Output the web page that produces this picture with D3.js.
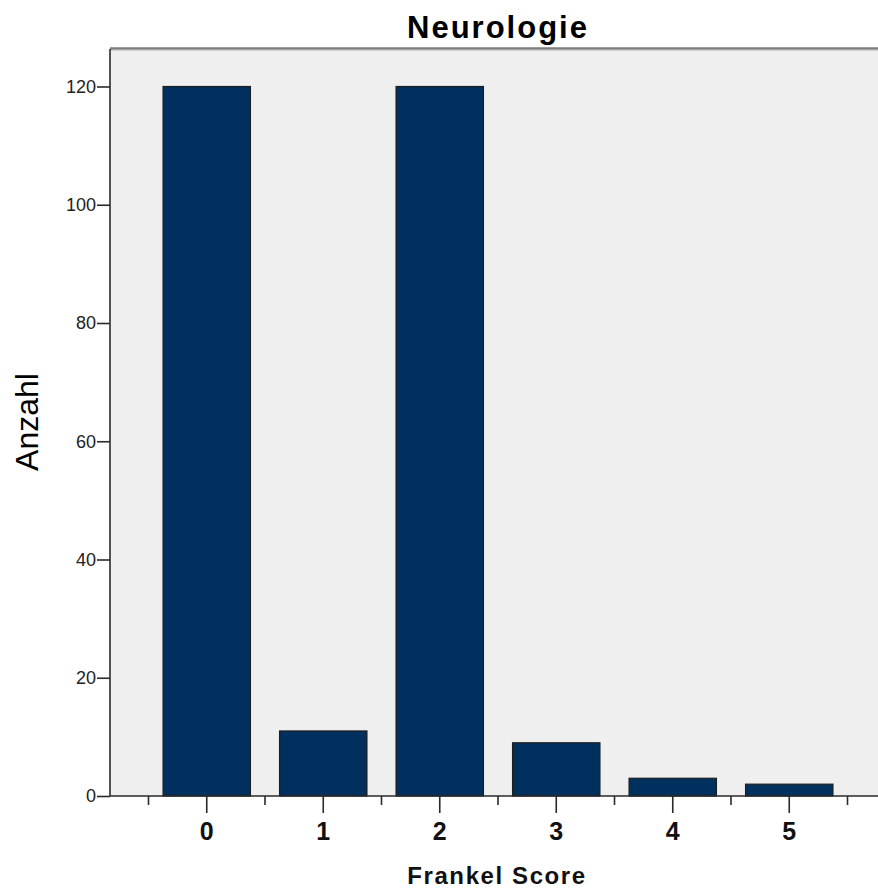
<!DOCTYPE html>
<html>
<head>
<meta charset="utf-8">
<script src="https://cdn.jsdelivr.net/npm/d3@7"></script>
<style>
  html, body { margin: 0; padding: 0; background: #fff; }
  svg { display: block; }
  .ytick text { font-family: "Liberation Sans", Arial, sans-serif; font-size: 18px; fill: #222; }
  .xtick text { font-family: "Liberation Sans", Arial, sans-serif; font-size: 25px; font-weight: bold; fill: #111; }
</style>
</head>
<body>
<svg id="chart" width="878" height="890"></svg>
<script>
// Frankel score categories and patient counts
const categories = ["0", "1", "2", "3", "4", "5"];
const counts = [120, 11, 120, 9, 3, 2];
const yTicks = [0, 20, 40, 60, 80, 100, 120];

const title = "Neurologie";
const xTitle = "Frankel Score";
const yTitle = "Anzahl";

const svg = d3.select("#chart");

const plot = { left: 110, right: 886, top: 49, bottom: 796 };

const x = d3.scaleBand()
  .domain(categories)
  .range([148.5, 847.5])
  .paddingInner(0.25)
  .paddingOuter(0.125);

const y = d3.scaleLinear()
  .domain([0, 120])
  .range([plot.bottom, 86.5]);

// plot background
svg.append("rect")
  .attr("x", plot.left).attr("y", plot.top)
  .attr("width", plot.right - plot.left).attr("height", plot.bottom - plot.top)
  .attr("fill", "#efefef");

// frame top edge
svg.append("line")
  .attr("x1", plot.left).attr("x2", plot.right)
  .attr("y1", plot.top - 0.5).attr("y2", plot.top - 0.5)
  .attr("stroke", "#7c7c7c").attr("stroke-width", 2.5);
svg.append("line")
  .attr("x1", plot.left).attr("x2", plot.right)
  .attr("y1", plot.top + 1.2).attr("y2", plot.top + 1.2)
  .attr("stroke", "#c4c4c4").attr("stroke-width", 1);

// bars
svg.append("g").selectAll("rect")
  .data(categories.map((c, i) => ({ c, v: counts[i] })))
  .join("rect")
  .attr("x", d => x(d.c))
  .attr("y", d => y(d.v))
  .attr("width", x.bandwidth())
  .attr("height", d => y(0) - y(d.v))
  .attr("fill", "#00305e")
  .attr("stroke", "#1e1e1e")
  .attr("stroke-width", 1.2);

// y axis
const yAxis = svg.append("g")
  .attr("class", "ytick")
  .attr("transform", `translate(${plot.left},0)`)
  .call(d3.axisLeft(y).tickValues(yTicks).tickSize(13).tickPadding(1));
yAxis.select(".domain")
  .attr("d", `M0,${plot.top}V${plot.bottom}`)
  .attr("stroke", "#2a2a2a").attr("stroke-width", 1.6);
yAxis.selectAll(".tick line").attr("stroke", "#2a2a2a").attr("stroke-width", 1.6);

// x axis: major ticks at categories
const xAxis = svg.append("g")
  .attr("class", "xtick")
  .attr("transform", `translate(0,${plot.bottom})`)
  .call(d3.axisBottom(x).tickSize(17).tickPadding(9));
xAxis.select(".domain")
  .attr("d", `M${plot.left},0H${plot.right}`)
  .attr("stroke", "#2a2a2a").attr("stroke-width", 1.6);
xAxis.selectAll(".tick line").attr("stroke", "#2a2a2a").attr("stroke-width", 1.6);

// minor ticks between categories
const half = x.step() * x.paddingInner() / 2;
const minorPos = categories.map(c => x(c) - half).concat([x(categories[categories.length - 1]) + x.bandwidth() + half]);
svg.append("g").selectAll("line")
  .data(minorPos)
  .join("line")
  .attr("x1", d => d).attr("x2", d => d)
  .attr("y1", plot.bottom).attr("y2", plot.bottom + 9)
  .attr("stroke", "#2a2a2a").attr("stroke-width", 1.6);

// titles
svg.append("text")
  .attr("x", (plot.left + plot.right) / 2).attr("y", 38)
  .attr("text-anchor", "middle")
  .style("font-family", "'Liberation Sans', Arial, sans-serif")
  .style("font-size", "31px").style("font-weight", "bold")
  .style("letter-spacing", "2px")
  .attr("fill", "#000")
  .text(title);

svg.append("text")
  .attr("x", (plot.left + plot.right) / 2 - 1).attr("y", 884)
  .attr("text-anchor", "middle")
  .style("font-family", "'Liberation Sans', Arial, sans-serif")
  .style("font-size", "24px").style("font-weight", "bold")
  .style("letter-spacing", "1.6px")
  .attr("fill", "#111")
  .text(xTitle);

svg.append("text")
  .attr("transform", "translate(38,422) rotate(-90)")
  .attr("text-anchor", "middle")
  .style("font-family", "'Liberation Sans', Arial, sans-serif")
  .style("font-size", "32px")
  .attr("fill", "#000")
  .text(yTitle);
</script>
</body>
</html>
